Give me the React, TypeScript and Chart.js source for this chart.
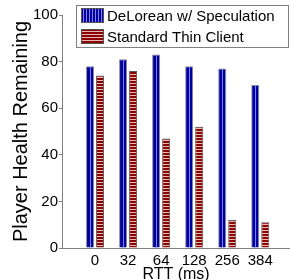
import React, { useEffect, useRef } from 'react';
import { Chart, registerables } from 'chart.js';

Chart.register(...registerables);

const categories = ['0', '32', '64', '128', '256', '384'];
const deloreanValues = [78, 81, 83, 78, 77, 70];
const thinClientValues = [74, 76, 47, 52, 12, 11];
const yTicks = [0, 20, 40, 60, 80, 100];
const seriesNames = ['DeLorean w/ Speculation', 'Standard Thin Client'];
const xTitle = 'RTT (ms)';
const yTitle = 'Player Health Remaining';

const FONT = '"Liberation Sans", Arial, Helvetica, sans-serif';
const BLUE = '#00009c';
const BLUE_LIGHT = '#8080ff';
const RED = '#8c0000';
const RED_LIGHT = '#e8b8b8';
const AXIS = '#808080';

function makeRedPattern(): CanvasPattern | string {
  const c = document.createElement('canvas');
  c.width = 4;
  c.height = 3;
  const g = c.getContext('2d');
  if (!g) return RED;
  g.fillStyle = RED;
  g.fillRect(0, 0, 4, 3);
  g.fillStyle = RED_LIGHT;
  g.fillRect(0, 2, 4, 1);
  return g.createPattern(c, 'repeat') || RED;
}

const stripePlugin = {
  id: 'blueStripes',
  afterDatasetsDraw(chart: any) {
    const meta = chart.getDatasetMeta(0);
    const ctx = chart.ctx;
    ctx.save();
    ctx.fillStyle = BLUE_LIGHT;
    meta.data.forEach((bar: any) => {
      const { x, y, base } = bar.getProps(['x', 'y', 'base'], true);
      ctx.fillRect(Math.floor(x), y + 1, 1, base - y - 1);
    });
    ctx.restore();
  },
};

const legendPlugin = {
  id: 'boxLegend',
  afterDraw(chart: any) {
    const ctx = chart.ctx as CanvasRenderingContext2D;
    ctx.save();
    ctx.fillStyle = '#ffffff';
    ctx.fillRect(76, 5, 213, 43);
    ctx.strokeStyle = AXIS;
    ctx.lineWidth = 1;
    ctx.strokeRect(76.5, 5.5, 212, 42);
    const sx = 81, sw = 23, sh = 15;
    ctx.fillStyle = BLUE;
    ctx.fillRect(sx, 8, sw, sh);
    ctx.fillStyle = BLUE_LIGHT;
    for (let xx = sx + 2; xx < sx + sw - 1; xx += 3) ctx.fillRect(xx, 8, 1, sh);
    ctx.strokeStyle = '#555';
    ctx.strokeRect(sx + 0.5, 8.5, sw - 1, sh - 1);
    ctx.fillStyle = RED;
    ctx.fillRect(sx, 29, sw, sh);
    ctx.fillStyle = RED_LIGHT;
    for (let yy = 31; yy < 29 + sh - 1; yy += 3) ctx.fillRect(sx, yy, sw, 1);
    ctx.strokeStyle = '#555';
    ctx.strokeRect(sx + 0.5, 29.5, sw - 1, sh - 1);
    ctx.fillStyle = '#000';
    ctx.font = `15px ${FONT}`;
    ctx.textBaseline = 'middle';
    ctx.textAlign = 'left';
    ctx.fillText(seriesNames[0], 107, 16.5);
    ctx.fillText(seriesNames[1], 107, 37.5);
    ctx.restore();
  },
};

export default function App() {
  const ref = useRef<HTMLCanvasElement | null>(null);
  useEffect(() => {
    if (!ref.current) return;
    Chart.defaults.font.family = FONT;
    const chart = new Chart(ref.current, {
      type: 'bar',
      data: {
        datasets: [
          {
            label: seriesNames[0],
            data: deloreanValues.map((v, i) => ({ x: i + 1, y: v })),
            backgroundColor: BLUE,
            borderColor: '#8a8a9a',
            borderWidth: 1,
          },
          {
            label: seriesNames[1],
            data: thinClientValues.map((v, i) => ({ x: i + 1, y: v })),
            backgroundColor: makeRedPattern() as any,
            borderColor: '#5a5a5a',
            borderWidth: 1,
          },
        ],
      },
      options: {
        animation: false,
        responsive: false,
        devicePixelRatio: 1,
        layout: { padding: { top: 15, right: 0, left: 0, bottom: 0 } },
        categoryPercentage: 0.606,
        barPercentage: 0.8,
        plugins: { legend: { display: false }, tooltip: { enabled: false } },
        scales: {
          x: {
            type: 'linear',
            min: 0,
            max: 6.9,
            offset: false,
            afterBuildTicks: (s: any) => {
              s.ticks = categories.map((_, i) => ({ value: i + 1 }));
            },
            ticks: {
              callback: (v: any) => categories[Number(v) - 1] ?? '',
              font: { size: 15 },
              color: '#000',
              padding: 4,
              maxRotation: 0,
              autoSkip: false,
            },
            grid: { display: false, drawTicks: false },
            border: { display: true, color: AXIS },
            title: { display: true, text: xTitle, font: { size: 16, lineHeight: 1 }, color: '#000', padding: { top: 0, bottom: -3 } },
            afterFit: (s: any) => {
              s.height = 32;
            },
          } as any,
          y: {
            min: 0,
            max: 100,
            afterBuildTicks: (s: any) => {
              s.ticks = yTicks.map((v) => ({ value: v }));
            },
            ticks: { font: { size: 15 }, color: '#000', padding: 1 },
            grid: { display: true, drawOnChartArea: false, drawTicks: true, tickLength: 3, color: AXIS },
            border: { display: true, color: AXIS },
            title: { display: true, text: yTitle, font: { size: 20 }, color: '#000', padding: { top: 9, bottom: 0 } },
            afterFit: (s: any) => {
              s.width = 62;
            },
          } as any,
        },
      } as any,
      plugins: [stripePlugin, legendPlugin],
    });
    return () => chart.destroy();
  }, []);
  return (
    <div style={{ position: 'absolute', left: 0, top: 0, width: 290, height: 280, background: '#fff' }}>
      <canvas ref={ref} width={290} height={280} style={{ display: 'block' }} />
    </div>
  );
}
